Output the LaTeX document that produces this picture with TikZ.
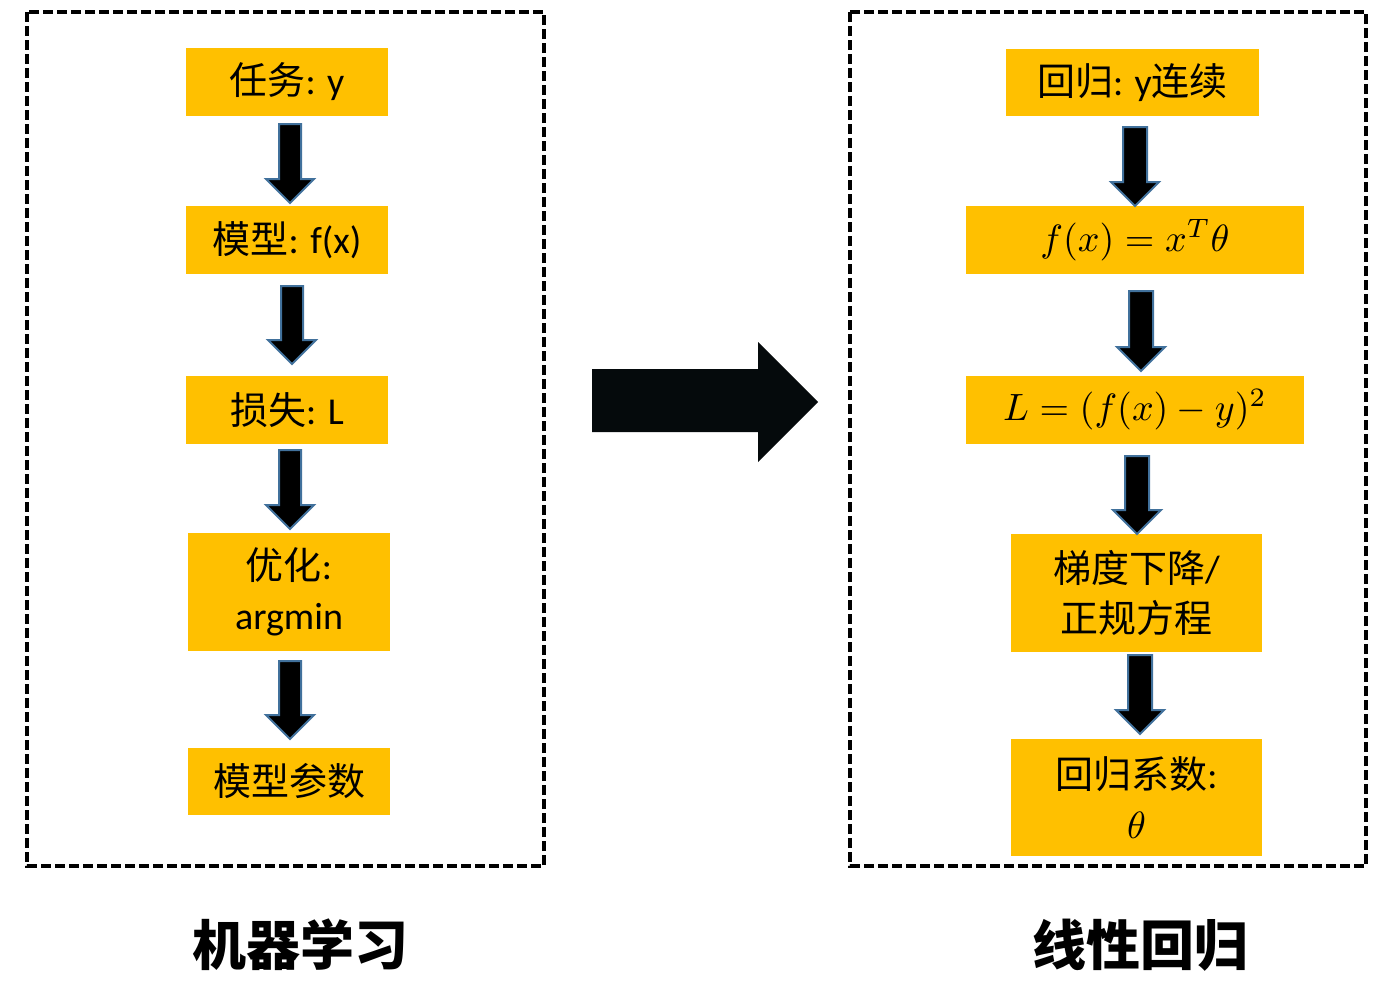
\documentclass[tikz,border=0pt]{standalone}
\usepackage{graphicx}
\usepackage{fontspec}
\setmainfont{Carlito}
\newfontfamily\cjk{Noto Sans CJK SC}
\definecolor{boxy}{HTML}{FFC000}
\definecolor{arrline}{HTML}{41719C}
\definecolor{bigarr}{HTML}{050A0C}
\newcommand{\bigmath}[1]{\scalebox{3.8}{\fontsize{10}{12}\selectfont$#1$}}
\tikzset{
  ybox/.style={fill=boxy, draw=none, inner sep=0pt, align=center,
    font=\fontsize{38}{50}\selectfont},
  dbox/.style={draw=black, line width=3.5pt, dash pattern=on 10pt off 4pt},
  blk/.style={fill=black, draw=arrline, line width=2pt, line join=miter},
  captxt/.style={font=\fontsize{54}{60}\selectfont\cjk\bfseries}
}
\newcommand{\darrow}[4]{% x, top, tip, halfshaft
  \draw[blk] (#1-#4,#2) -- (#1+#4,#2) -- (#1+#4,#3-24) -- (#1+24,#3-24) -- (#1,#3)
    -- (#1-24,#3-24) -- (#1-#4,#3-24) -- cycle;}
\begin{document}
\begin{tikzpicture}[x=1pt,y=-1pt]
\useasboundingbox (0,0) rectangle (1388,991);
% dashed frames
\draw[dbox] (27,12) rectangle (544,866);
\draw[dbox] (850,12) rectangle (1366,866);
% left column
\node[ybox, minimum width=202pt, minimum height=68pt] (l1) at (287,82) {{\cjk 任务}: y};
\node[ybox, minimum width=202pt, minimum height=68pt] (l2) at (287,240) {{\cjk 模型}: f(x)};
\node[ybox, minimum width=202pt, minimum height=68pt] (l3) at (287,410) {{\cjk 损失}: L};
\node[ybox, minimum width=202pt, minimum height=118pt] (l4) at (289,592) {{\cjk 优化}:\\argmin};
\node[ybox, minimum width=202pt, minimum height=67pt] (l5) at (289,781.5) {\cjk 模型参数};
\darrow{290}{124}{203}{11}
\darrow{292}{286}{364}{11}
\darrow{290}{450}{529}{11}
\darrow{290}{661}{739}{11}
% right column
\node[ybox, minimum width=253pt, minimum height=67pt] (r1) at (1132.5,82.5) {{\cjk 回归}: y{\cjk 连续}};
\node[ybox, minimum width=338pt, minimum height=68pt] (r2) at (1135,240) {\bigmath{f(x) = x^T\theta}};
\node[ybox, minimum width=338pt, minimum height=68pt] (r3) at (1135,410) {\bigmath{L = (f(x) - y)^2}};
\node[ybox, minimum width=251pt, minimum height=118pt] (r4) at (1136.5,593) {{\cjk 梯度下降}/\\{\cjk 正规方程}};
\node[ybox, minimum width=251pt, minimum height=117pt] (r5) at (1136.5,797.5) {{\cjk 回归系数}:\\\bigmath{\theta}};
\darrow{1135}{127}{206}{12}
\darrow{1141}{291}{371}{12}
\darrow{1137}{456}{534}{12}
\darrow{1140}{655}{734}{12}
% big arrow
\fill[bigarr] (592,369) -- (758,369) -- (758,342) -- (818,402) -- (758,462) -- (758,432) -- (592,432) -- cycle;
% captions
\node[captxt] (c1) at (300,945) {机器学习};
\node[captxt] (c2) at (1140,945) {线性回归};
\end{tikzpicture}
\end{document}
